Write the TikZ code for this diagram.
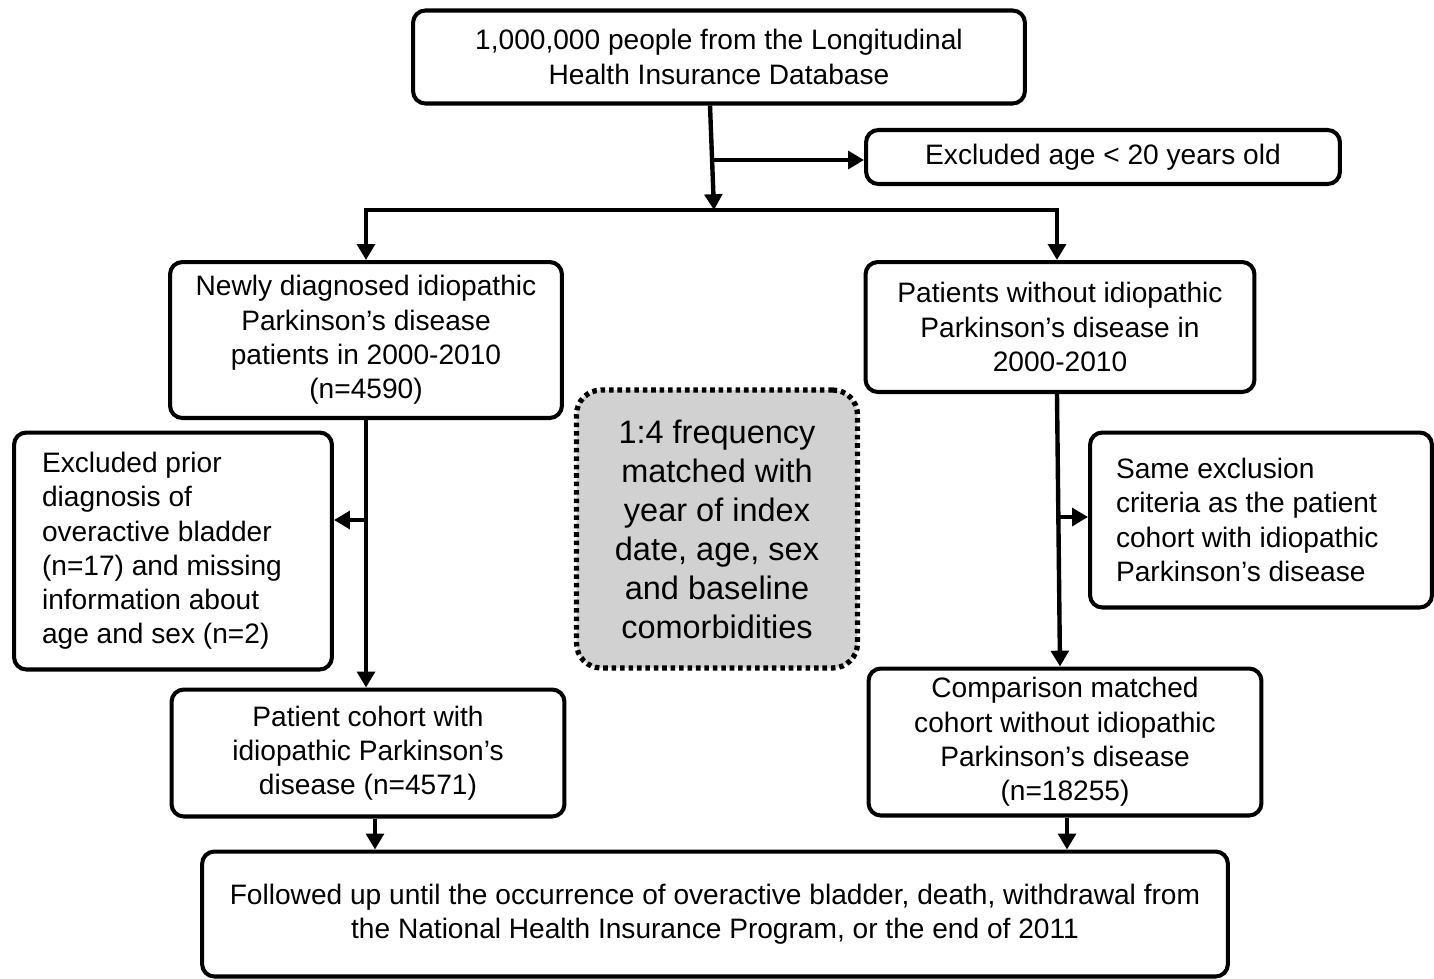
\documentclass[tikz,border=0pt]{standalone}
\usepackage{fontspec}
\setmainfont{Liberation Sans}
\usepackage{tikz}
\usetikzlibrary{arrows.meta, positioning, calc}

\begin{document}
\begin{tikzpicture}[
  x=0.02cm, y=-0.02cm,
  box/.style   = {draw, line width=2.3pt, rounded corners=7pt, align=center,
                  font=\fontsize{16}{19.5}\selectfont, inner sep=0pt},
  lbox/.style  = {box, align=left},
  mbox/.style  = {draw, dotted, line width=3pt, dash pattern=on 2.6pt off 2.2pt,
                  rounded corners=14pt, fill=black!18, align=center,
                  font=\fontsize{18.5}{22.2}\selectfont, inner sep=0pt},
  arr/.style   = {-{Triangle[length=9pt, width=10pt]}, line width=2.5pt},
]
\useasboundingbox (0,0) rectangle (1434,978);

% Row 1 - source
\node[box, minimum width=12.24cm, minimum height=1.86cm] (top) at (719,57)
  {1,000,000 people from the Longitudinal\\Health Insurance Database};
\node[box, minimum width=9.48cm, minimum height=1.08cm] (agex) at (1103,157)
  {Excluded age < 20 years old};

% Row 2 - two groups
\node[box, minimum width=7.84cm, minimum height=3.12cm] (pd) at (366,340)
  {Newly diagnosed idiopathic\\Parkinson’s disease\\patients in 2000-2010\\(n=4590)};
\node[box, minimum width=7.78cm, minimum height=2.60cm] (nopd) at (1060,327)
  {Patients without idiopathic\\Parkinson’s disease in\\2000-2010};

% Row 3 - exclusions and matching
\node[lbox, minimum width=6.36cm, minimum height=4.74cm] (exclpd) at (173,551)
  {\begin{minipage}{5.24cm}Excluded prior\\diagnosis of\\overactive bladder\\(n=17) and missing\\information about\\age and sex (n=2)\end{minipage}};
\node[mbox, minimum width=5.62cm, minimum height=5.56cm] (match) at (717,529)
  {1:4 frequency\\matched with\\year of index\\date, age, sex\\and baseline\\comorbidities};
\node[lbox, minimum width=6.84cm, minimum height=3.50cm] (samex) at (1261,520)
  {\begin{minipage}{5.8cm}Same exclusion\\criteria as the patient\\cohort with idiopathic\\Parkinson’s disease\end{minipage}};

% Row 4 - cohorts
\node[box, minimum width=7.86cm, minimum height=2.54cm] (pdc) at (368,753)
  {Patient cohort with\\idiopathic Parkinson’s\\disease (n=4571)};
\node[box, minimum width=7.86cm, minimum height=2.94cm] (cmp) at (1065,742)
  {Comparison matched\\cohort without idiopathic\\Parkinson’s disease\\(n=18255)};

% Row 5 - follow up
\node[box, minimum width=20.52cm, minimum height=2.50cm] (fu) at (715,914)
  {Followed up until the occurrence of overactive bladder, death, withdrawal from\\the National Health Insurance Program, or the end of 2011};

% Split points
\coordinate (a1) at (711,160);
\coordinate (split) at (714,210);
\coordinate (b1) at (368,520);
\coordinate (c1) at (1058,517);

% Arrows
\draw[arr] (top.south -| 710,0) -- (split);
\draw[arr] (a1) -- (agex.west |- a1);
\draw[arr] (split) -| (pd.north);
\draw[arr] (split) -| (nopd.north -| 1057,0);
\draw[arr] (pd.south) -- (pd.south |- pdc.north);
\draw[arr] (b1) -- (exclpd.east |- b1);
\draw[arr] (nopd.south -| 1057,0) -- (cmp.north -| 1060,0);
\draw[arr] (c1) -- (samex.west |- c1);
\draw[arr] (pdc.south -| 375,0) -- (fu.north -| 375,0);
\draw[arr] (cmp.south -| 1067,0) -- (fu.north -| 1067,0);
\end{tikzpicture}
\end{document}
